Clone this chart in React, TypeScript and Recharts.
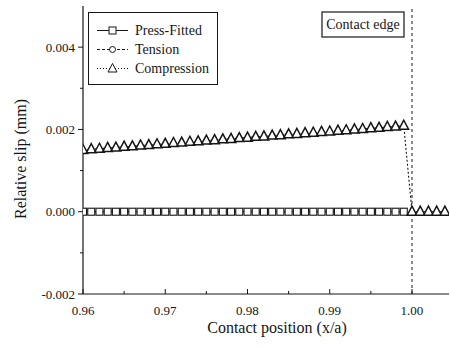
import { LineChart, Line, XAxis, YAxis, ReferenceLine } from 'recharts'

// contact position x/a
const positions = [
  0.960, 0.961, 0.962, 0.963, 0.964, 0.965, 0.966, 0.967, 0.968, 0.969,
  0.970, 0.971, 0.972, 0.973, 0.974, 0.975, 0.976, 0.977, 0.978, 0.979,
  0.980, 0.981, 0.982, 0.983, 0.984, 0.985, 0.986, 0.987, 0.988, 0.989,
  0.990, 0.991, 0.992, 0.993, 0.994, 0.995, 0.996, 0.997, 0.998, 0.999,
  1.000, 1.001, 1.002, 1.003, 1.004,
]

const pressFitted = [
  0, 0, 0, 0, 0, 0, 0, 0, 0, 0,
  0, 0, 0, 0, 0, 0, 0, 0, 0, 0,
  0, 0, 0, 0, 0, 0, 0, 0, 0, 0,
  0, 0, 0, 0, 0, 0, 0, 0, 0, 0,
  null, null, null, null, null,
]

const tension = [
  0, 0, 0, 0, 0, 0, 0, 0, 0, 0,
  0, 0, 0, 0, 0, 0, 0, 0, 0, 0,
  0, 0, 0, 0, 0, 0, 0, 0, 0, 0,
  0, 0, 0, 0, 0, 0, 0, 0, 0, 0,
  null, null, null, null, null,
]

const compression = [
  0.00150, 0.00152, 0.00153, 0.00155, 0.00156, 0.00158, 0.00159, 0.00161, 0.00162, 0.00164,
  0.00165, 0.00167, 0.00168, 0.00170, 0.00171, 0.00173, 0.00174, 0.00176, 0.00177, 0.00179,
  0.00180, 0.00182, 0.00183, 0.00185, 0.00186, 0.00188, 0.00189, 0.00191, 0.00192, 0.00194,
  0.00195, 0.00197, 0.00198, 0.00200, 0.00201, 0.00203, 0.00204, 0.00206, 0.00207, 0.00209,
  0, 0, 0, 0, 0,
]

const xMajor = [0.96, 0.97, 0.98, 0.99, 1.0]
const xMinor = [0.965, 0.975, 0.985, 0.995]
const yMajor = [-0.002, 0, 0.002, 0.004]
const yMinor = [-0.001, 0.001, 0.003]

const seriesNames = ['Press-Fitted', 'Tension', 'Compression']

const data = positions.map((x, i) => ({
  x,
  pf: pressFitted[i],
  t: tension[i],
  c: compression[i],
}))

const INK = '#161616'
const FONT = '"Liberation Serif", "Times New Roman", serif'

const Square = (p: any) => {
  if (p.cy == null || p.value == null) return <g key={`sq-${p.index}`} />
  return <rect key={`sq-${p.index}`} x={p.cx - 3.5} y={p.cy - 3.5} width={7} height={7} fill="#fff" stroke={INK} strokeWidth={1.1} />
}

const Circle = (p: any) => {
  if (p.cy == null || p.value == null) return <g key={`ci-${p.index}`} />
  return <circle key={`ci-${p.index}`} cx={p.cx} cy={p.cy} r={3} fill="#fff" stroke={INK} strokeWidth={1} />
}

const Triangle = (p: any) => {
  if (p.cy == null || p.value == null) return <g key={`tr-${p.index}`} />
  const { cx, cy } = p
  return (
    <polygon
      key={`tr-${p.index}`}
      points={`${cx},${cy - 5.5} ${cx - 4.8},${cy + 3.5} ${cx + 4.8},${cy + 3.5}`}
      fill="#fff"
      stroke={INK}
      strokeWidth={1.5}
    />
  )
}

function YTick({ x, y, payload }: any) {
  const major = yMajor.includes(payload.value)
  return (
    <g>
      <line x1={x} x2={x - (major ? 5 : 3)} y1={y} y2={y} stroke={INK} />
      {major && (
        <text x={x - 8} y={y} dy={4.5} textAnchor="end" fontSize={13} fill={INK} fontFamily={FONT}>
          {payload.value.toFixed(3)}
        </text>
      )}
    </g>
  )
}

function XTick({ x, y, payload }: any) {
  const major = xMajor.includes(payload.value)
  return (
    <g>
      <line x1={x} x2={x} y1={y} y2={y - (major ? 5 : 3)} stroke={INK} />
      {major && (
        <text x={x} y={y} dy={21} textAnchor="middle" fontSize={13} fill={INK} fontFamily={FONT}>
          {payload.value.toFixed(2)}
        </text>
      )}
    </g>
  )
}

function YLabel({ viewBox }: any) {
  const cx = viewBox.x + 20
  const cy = viewBox.y + viewBox.height / 2 + 9
  return (
    <text x={cx} y={cy} transform={`rotate(-90 ${cx} ${cy})`} textAnchor="middle" dominantBaseline="central" fontSize={16} fill={INK} fontFamily={FONT}>
      Relative slip (mm)
    </text>
  )
}

function XLabel({ viewBox }: any) {
  return (
    <text x={viewBox.x + viewBox.width / 2 + 11} y={viewBox.y + 39} textAnchor="middle" fontSize={16} fill={INK} fontFamily={FONT}>
      Contact position (x/a)
    </text>
  )
}

function EdgeLabel({ viewBox }: any) {
  const right = viewBox.x - 8
  return (
    <g>
      <rect x={right - 82} y={viewBox.y + 6} width={82} height={25} fill="#fff" stroke={INK} strokeWidth={1.2} />
      <text x={right - 41} y={viewBox.y + 23} textAnchor="middle" fontSize={14} fill={INK} fontFamily={FONT}>
        Contact edge
      </text>
    </g>
  )
}

function LegendBox() {
  const samples = [
    { dash: undefined, marker: <rect x={14} y={3} width={7} height={7} fill="#fff" stroke={INK} /> },
    { dash: '3 2', marker: <circle cx={17.5} cy={6.5} r={3} fill="#fff" stroke={INK} /> },
    { dash: '1 2', marker: <polygon points="17.5,1.5 13,10 22,10" fill="#fff" stroke={INK} /> },
  ]
  return (
    <div style={{ position: 'absolute', left: 88, top: 12, border: `1px solid ${INK}`, background: '#fff', padding: '8px 8px 6px 6px', fontFamily: FONT, fontSize: 14, color: INK, lineHeight: 1 }}>
      {seriesNames.map((name, i) => (
        <div key={name} style={{ display: 'flex', alignItems: 'center', height: 19 }}>
          <svg width={36} height={13} style={{ marginRight: 4 }}>
            <line x1={2} x2={33} y1={6.5} y2={6.5} stroke={INK} strokeDasharray={samples[i].dash} />
            {samples[i].marker}
          </svg>
          <span>{name}</span>
        </div>
      ))}
    </div>
  )
}

export default function App() {
  return (
    <div style={{ position: 'absolute', left: 0, top: 0, width: 450, height: 348, background: '#fff' }}>
      <LineChart width={450} height={348} data={data} margin={{ top: 6, right: 1, left: 0, bottom: 0 }}>
        <XAxis
          dataKey="x"
          type="number"
          domain={[0.96, 1.0045]}
          allowDataOverflow
          ticks={[...xMajor, ...xMinor]}
          tick={<XTick />}
          tickLine={false}
          tickSize={0}
          tickMargin={0}
          height={54}
          axisLine={{ stroke: INK, strokeWidth: 1.2 }}
          label={<XLabel />}
          interval={0}
        />
        <XAxis
          xAxisId="top"
          orientation="top"
          dataKey="x"
          type="number"
          domain={[0.96, 1.0045]}
          allowDataOverflow
          height={0}
          tick={false}
          tickLine={false}
          axisLine={{ stroke: INK, strokeWidth: 1.5 }}
        />
        <YAxis
          type="number"
          domain={[-0.002, 0.005]}
          allowDataOverflow
          ticks={[...yMajor, ...yMinor]}
          tick={<YTick />}
          tickLine={false}
          tickSize={0}
          tickMargin={0}
          width={83}
          axisLine={{ stroke: INK, strokeWidth: 1.2 }}
          label={<YLabel />}
          interval={0}
        />
        <ReferenceLine x={1.0} stroke={INK} strokeDasharray="3 3" label={<EdgeLabel />} />
        <Line dataKey="t" name={seriesNames[1]} stroke={INK} strokeDasharray="3 2" strokeWidth={1} dot={Circle} isAnimationActive={false} />
        <Line dataKey="pf" name={seriesNames[0]} stroke={INK} strokeWidth={1.1} dot={Square} isAnimationActive={false} />
        <Line dataKey="c" name={seriesNames[2]} stroke={INK} strokeDasharray="2 2" strokeWidth={1.1} dot={Triangle} isAnimationActive={false} />
      </LineChart>
      <LegendBox />
    </div>
  )
}
